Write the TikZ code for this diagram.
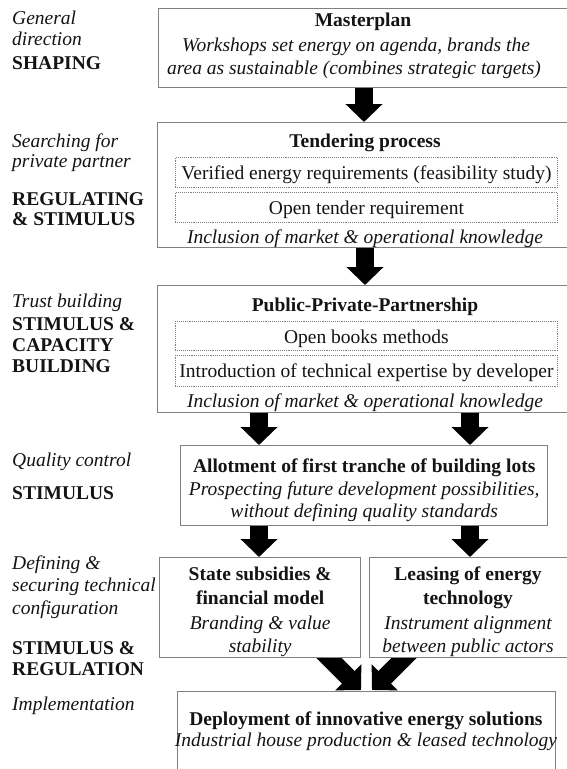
\documentclass[tikz,border=0pt]{standalone}
\usepackage{fontspec}
\setmainfont{Liberation Serif}
\usetikzlibrary{arrows.meta}
\definecolor{bord}{HTML}{808080}
\definecolor{txt}{HTML}{141414}
\newcommand{\fsz}{\fontsize{19.5}{23}\selectfont}
\begin{document}
\begin{tikzpicture}[x=1pt,y=-1pt,
 every node/.style={text=txt},
 box/.style={draw=bord, line width=1.4pt, fill=white, inner sep=0pt, anchor=north west},
 dbox/.style={draw=bord, densely dotted, line width=0.9pt, inner sep=0pt, anchor=north west},
 tb/.style={anchor=base, inner sep=0pt, font=\fsz\bfseries},
 ti/.style={anchor=base, inner sep=0pt, font=\fsz\itshape},
 tr/.style={anchor=base, inner sep=0pt, font=\fsz},
 li/.style={anchor=base west, inner sep=0pt, font=\fsz\itshape},
 lb/.style={anchor=base west, inner sep=0pt, font=\fsz\bfseries},
 blk/.style={line width=18pt, draw=black, -{Triangle[width=36pt,length=18pt]}}]
\useasboundingbox (0,0) rectangle (567,769);
\clip (0,0) rectangle (567,769);
\fill[white] (0,0) rectangle (567,769);

% converging arrows (drawn first, boxes cover their tails)
\coordinate (lta) at (301,630);
\coordinate (ltt) at (361,690);
\coordinate (rta) at (432,630);
\coordinate (rtt) at (372,690);
\draw[blk] (lta) -- (ltt);
\draw[blk] (rta) -- (rtt);

% boxes
\node[box, minimum width=420pt, minimum height=79pt] (mp) at (158,8) {};
\node[box, minimum width=420pt, minimum height=125pt] (tp) at (157,122) {};
\node[dbox, minimum width=382pt, minimum height=30pt] (tp1) at (175,157) {};
\node[dbox, minimum width=382pt, minimum height=30pt] (tp2) at (175,192) {};
\node[box, minimum width=420pt, minimum height=127pt] (pp) at (157,285) {};
\node[dbox, minimum width=382pt, minimum height=29pt] (pp1) at (175,321) {};
\node[dbox, minimum width=382pt, minimum height=31pt] (pp2) at (175,355) {};
\node[box, minimum width=367pt, minimum height=80pt] (al) at (180,445) {};
\node[box, minimum width=201pt, minimum height=100pt] (sb) at (159,557) {};
\node[box, minimum width=210pt, minimum height=100pt] (le) at (369,557) {};
\node[box, minimum width=378pt, minimum height=110pt] (dp) at (177,691) {};

% vertical arrows
\coordinate (x1) at (364,0);
\coordinate (x2) at (365,0);
\coordinate (xl) at (259,0);
\coordinate (xr) at (470,0);
\draw[blk] (mp.south -| x1) -- (tp.north -| x1);
\draw[blk] (tp.south -| x2) -- (pp.north -| x2);
\draw[blk] (pp.south -| xl) -- (al.north -| xl);
\draw[blk] (pp.south -| xr) -- (al.north -| xr);
\draw[blk] (al.south -| xl) -- (sb.north -| xl);
\draw[blk] (al.south -| xr) -- (le.north -| xr);

% left labels
\node[li] (g1) at (12,24) {General};
\node[li] (g2) at (12,45) {direction};
\node[lb] (g3) at (12,69) {SHAPING};
\node[li] (s1) at (12,147) {Searching for};
\node[li] (s2) at (12,167) {private partner};
\node[lb] (s3) at (12,205) {REGULATING};
\node[lb] (s4) at (12,225) {\& STIMULUS};
\node[li] (t1) at (12,307) {Trust building};
\node[lb] (t2) at (12,330) {STIMULUS \&};
\node[lb] (t3) at (12,351) {CAPACITY};
\node[lb] (t4) at (12,372) {BUILDING};
\node[li] (q1) at (12,466) {Quality control};
\node[lb] (q2) at (12,499) {STIMULUS};
\node[li] (d1) at (12,569) {Defining \&};
\node[li] (d2) at (12,591) {securing technical};
\node[li] (d3) at (12,614) {configuration};
\node[lb] (d4) at (12,654) {STIMULUS \&};
\node[lb] (d5) at (12,675) {REGULATION};
\node[li] (i1) at (12,710) {Implementation};

% box texts
\node[tb] (mpa) at (363,26) {Masterplan};
\node[ti] (mpb) at (356,51) {Workshops set energy on agenda, brands the};
\node[ti] (mpc) at (354,74) {area as sustainable (combines strategic targets)};

\node[tb] (tpa) at (365,147) {Tendering process};
\node[tr] (tpb) at (tp1.center |- 0,179) {Verified energy requirements (feasibility study)};
\node[tr] (tpc) at (tp2.center |- 0,214) {Open tender requirement};
\node[ti] (tpd) at (365,243) {Inclusion of market \& operational knowledge};

\node[tb] (ppa) at (365,311) {Public-Private-Partnership};
\node[tr] (ppb) at (pp1.center |- 0,343) {Open books methods};
\node[tr] (ppc) at (pp2.center |- 0,377) {Introduction of technical expertise by developer};
\node[ti] (ppd) at (365,407) {Inclusion of market \& operational knowledge};

\node[tb] (ala) at (al.center |- 0,472) {Allotment of first tranche of building lots};
\node[ti] (alb) at (al.center |- 0,495) {Prospecting future development possibilities,};
\node[ti] (alc) at (al.center |- 0,517) {without defining quality standards};

\node[tb] (sba) at (sb.center |- 0,580) {State subsidies \&};
\node[tb] (sbb) at (sb.center |- 0,604) {financial model};
\node[ti] (sbc) at (sb.center |- 0,629) {Branding \& value};
\node[ti] (sbd) at (sb.center |- 0,652) {stability};

\node[tb] (lea) at (468,580) {Leasing of energy};
\node[tb] (leb) at (468,604) {technology};
\node[ti] (lec) at (468,629) {Instrument alignment};
\node[ti] (led) at (468,652) {between public actors};

\node[tb] (dpa) at (366,725) {Deployment of innovative energy solutions};
\node[ti] (dpb) at (366,746) {Industrial house production \& leased technology};
\end{tikzpicture}
\end{document}
